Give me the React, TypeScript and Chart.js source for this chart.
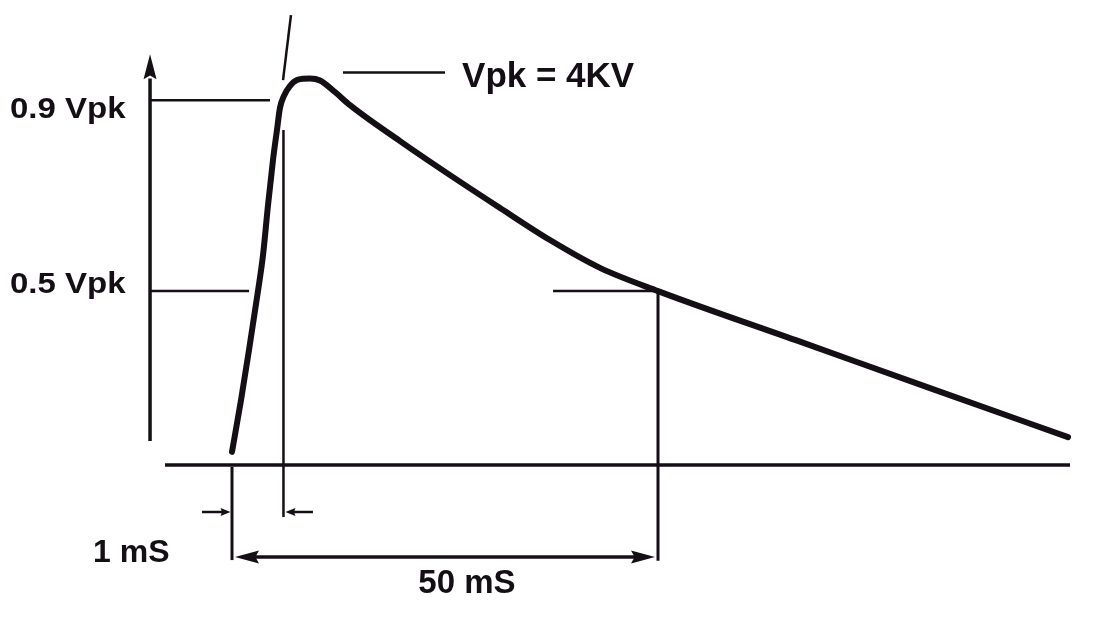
import React, { useEffect, useRef } from "react";
import { Chart, registerables } from "chart.js";

Chart.register(...registerables);

// Waveform: time in ms, voltage as a fraction of Vpk (baseline = 0, peak = 1)
const TIME_MS = [0, 1.06, 2.0, 3.05, 3.64, 4.23, 4.81, 5.28, 5.63, 6.1, 6.81, 7.75, 9.15, 10.33, 12.09, 13.85, 19.72, 25.59, 31.46, 37.32, 43.19, 50, 66.67, 81.92, 98.12];
const VOLTAGE_VPK = [0.034, 0.168, 0.298, 0.45, 0.543, 0.673, 0.789, 0.867, 0.924, 0.955, 0.981, 0.997, 1.0, 0.995, 0.965, 0.931, 0.838, 0.75, 0.665, 0.582, 0.51, 0.45, 0.319, 0.199, 0.072];

// Reference levels (as drawn) and their labels
const LEVEL_LABELS = ["0.9 Vpk", "0.5 Vpk"];
const LEVEL_VALUES = [0.944, 0.45];

// Time markers
const PEAK_LABEL = "Vpk = 4KV";
const RISE_LABEL = "1 mS";
const RISE_END_MS = 6.04;
const HALF_LABEL = "50 mS";
const HALF_MS = 50;

export default function App() {
  const ref = useRef<HTMLCanvasElement | null>(null);

  useEffect(() => {
    const canvas = ref.current;
    if (!canvas) return;
    const ink = "#140f14";

    const schematic = {
      id: "schematic",
      beforeDatasetsDraw(chart: any) {
        const ctx: CanvasRenderingContext2D = chart.ctx;
        const xs = chart.scales.x;
        const ys = chart.scales.y;
        const X = (t: number) => xs.getPixelForValue(t);
        const Y = (v: number) => ys.getPixelForValue(v);

        ctx.save();
        ctx.strokeStyle = ink;
        ctx.fillStyle = ink;
        ctx.lineCap = "butt";

        const seg = (t1: number, v1: number, t2: number, v2: number, w: number) => {
          ctx.beginPath();
          ctx.lineWidth = w;
          ctx.moveTo(X(t1), Y(v1));
          ctx.lineTo(X(t2), Y(v2));
          ctx.stroke();
        };
        // filled arrow head; dx,dy = unit direction of the pointing
        const head = (px: number, py: number, dx: number, dy: number, len: number, half: number) => {
          const bx = px - dx * len;
          const by = py - dy * len;
          ctx.beginPath();
          ctx.moveTo(px, py);
          ctx.lineTo(bx - dy * half, by + dx * half);
          ctx.lineTo(bx + dx * len * 0.15, by + dy * len * 0.15);
          ctx.lineTo(bx + dy * half, by - dx * half);
          ctx.closePath();
          ctx.fill();
        };
        const stretchedText = (s: string, x: number, y: number, sx: number) => {
          ctx.save();
          ctx.translate(x, y);
          ctx.scale(sx, 1);
          ctx.fillText(s, 0, 0);
          ctx.restore();
        };

        const axisT = -9.62;
        // vertical (voltage) axis with arrow
        seg(axisT, 0.062, axisT, 1.0, 3.5);
        head(X(axisT), Y(1.063), 0, -1, 25, 6.5);

        // time baseline
        seg(-7.86, 0, 98.36, 0, 3.5);

        // reference level lines
        seg(axisT, LEVEL_VALUES[0], 4.46, LEVEL_VALUES[0], 2.5);
        seg(axisT, LEVEL_VALUES[1], 2.0, LEVEL_VALUES[1], 2.5);
        seg(37.68, LEVEL_VALUES[1], HALF_MS, LEVEL_VALUES[1], 2.5);

        // tangent of the rising edge
        seg(5.99, 0.996, 6.92, 1.164, 2.5);

        // verticals
        seg(RISE_END_MS, 0.867, RISE_END_MS, -0.1345, 2.5);
        seg(0, -0.005, 0, -0.246, 3);
        seg(HALF_MS, LEVEL_VALUES[1], HALF_MS, -0.248, 3);

        // 1 mS pointers
        const yr = Y(-0.1216);
        ctx.beginPath();
        ctx.lineWidth = 2.5;
        ctx.moveTo(X(-3.52), yr);
        ctx.lineTo(X(0) - 6, yr);
        ctx.moveTo(X(9.5), yr);
        ctx.lineTo(X(RISE_END_MS) + 6, yr);
        ctx.stroke();
        head(X(0) - 1.5, yr, 1, 0, 10, 4);
        head(X(RISE_END_MS) + 2, yr, -1, 0, 10, 4);

        // 50 mS dimension arrow
        const yd = Y(-0.238);
        ctx.beginPath();
        ctx.lineWidth = 3.5;
        ctx.moveTo(X(0) + 10, yd);
        ctx.lineTo(X(HALF_MS) - 10, yd);
        ctx.stroke();
        head(X(0) + 3, yd, -1, 0, 24, 6.5);
        head(X(HALF_MS) - 3, yd, 1, 0, 24, 6.5);

        // Vpk leader
        seg(13.03, 1.0155, 25.0, 1.0155, 2.5);

        // text
        ctx.textBaseline = "alphabetic";
        ctx.textAlign = "left";
        ctx.font = "bold 30px 'Liberation Sans', Arial, sans-serif";
        stretchedText(LEVEL_LABELS[0], X(-26.06), Y(0.898), 1.1);
        stretchedText(LEVEL_LABELS[1], X(-26.06), Y(0.445), 1.1);
        ctx.font = "bold 35px 'Liberation Sans', Arial, sans-serif";
        ctx.fillText(PEAK_LABEL, X(27.0), Y(0.978));
        ctx.font = "bold 32px 'Liberation Sans', Arial, sans-serif";
        ctx.fillText(RISE_LABEL, X(-16.31), Y(-0.251));
        ctx.textAlign = "center";
        ctx.font = "bold 33px 'Liberation Sans', Arial, sans-serif";
        ctx.fillText(HALF_LABEL, X(27.58), Y(-0.331));

        ctx.restore();
      },
    };

    const chart = new Chart(canvas, {
      type: "line",
      data: {
        datasets: [
          {
            label: "Voltage",
            data: TIME_MS.map((t, i) => ({ x: t, y: VOLTAGE_VPK[i] })),
            borderColor: ink,
            borderWidth: 6,
            pointRadius: 0,
            fill: false,
            cubicInterpolationMode: "monotone",
            borderCapStyle: "round",
            borderJoinStyle: "round",
          },
        ],
      },
      options: {
        animation: false,
        responsive: false,
        maintainAspectRatio: false,
        layout: { padding: 0 },
        plugins: { legend: { display: false }, tooltip: { enabled: false }, title: { display: false } },
        scales: {
          x: { type: "linear", min: -27.23, max: 101.76, display: false },
          y: { type: "linear", min: -0.3933, max: 1.2031, display: false },
        },
      },
      plugins: [schematic],
    } as any);

    return () => chart.destroy();
  }, []);

  return (
    <div style={{ position: "fixed", left: 0, top: 0, width: 1099, height: 617, background: "#ffffff" }}>
      <canvas ref={ref} width={1099} height={617} style={{ display: "block", width: 1099, height: 617 }} />
    </div>
  );
}
